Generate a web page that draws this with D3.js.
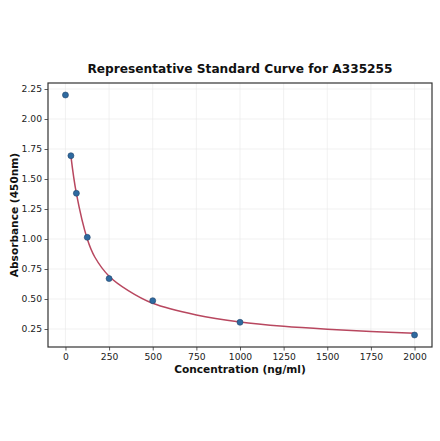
<!DOCTYPE html>
<html><head><meta charset="utf-8">
<script src="https://cdn.jsdelivr.net/npm/d3@7"></script>
<style>body{margin:0;background:#fff}svg{display:block}text{font-family:"DejaVu Sans",sans-serif}</style>
</head><body>
<svg id="c" width="440" height="441"></svg>
<script>
const concentrations = [0, 31.25, 62.5, 125, 250, 500, 1000, 2000];
const absorbances = [2.2, 1.694, 1.381, 1.014, 0.67, 0.486, 0.306, 0.2];
const curveX = [31.25, 62.5, 125, 168, 250, 360, 500, 750, 1000, 1250, 1500, 1750, 2000];
const curveY = [1.69, 1.38, 1.0, 0.85, 0.69, 0.57, 0.464, 0.367, 0.308, 0.272, 0.248, 0.23, 0.215];
const xTicks = [0, 250, 500, 750, 1000, 1250, 1500, 1750, 2000];
const yTicks = [0.25, 0.5, 0.75, 1.0, 1.25, 1.5, 1.75, 2.0, 2.25];
const titleText = "Representative Standard Curve for A335255";
const xLabel = "Concentration (ng/ml)";
const yLabel = "Absorbance (450nm)";

const svg = d3.select("#c");
const L = 48, R = 432, T = 83, B = 347;
const x = d3.scaleLinear().domain([-100, 2100]).range([L, R]);
const y = d3.scaleLinear().domain([0.1, 2.3]).range([B, T]);

// grid
const g = svg.append("g");
g.selectAll(".gx").data(xTicks).join("line")
  .attr("x1", d => x(d)).attr("x2", d => x(d)).attr("y1", T).attr("y2", B)
  .attr("stroke", "#e8e8e8").attr("stroke-width", 0.6);
g.selectAll(".gy").data(yTicks).join("line")
  .attr("y1", d => y(d)).attr("y2", d => y(d)).attr("x1", L).attr("x2", R)
  .attr("stroke", "#e8e8e8").attr("stroke-width", 0.6);

// axes
const xa = svg.append("g").attr("transform", `translate(0,${B})`)
  .call(d3.axisBottom(x).tickValues(xTicks).tickFormat(d3.format("d")).tickSize(3.5).tickPadding(2.5));
const ya = svg.append("g").attr("transform", `translate(${L},0)`)
  .call(d3.axisLeft(y).tickValues(yTicks).tickFormat(d3.format(".2f")).tickSize(3.5).tickPadding(2.5));
[xa, ya].forEach(a => {
  a.select(".domain").remove();
  a.selectAll("line").attr("stroke", "#333").attr("stroke-width", 0.8);
  a.selectAll("text").attr("font-size", 9.2).attr("fill", "#222").attr("font-family", "DejaVu Sans");
});

// curve
const line = d3.line().x(d => x(d[0])).y(d => y(d[1])).curve(d3.curveCatmullRom.alpha(0.5));
svg.append("path").datum(d3.zip(curveX, curveY)).attr("d", line)
  .attr("fill", "none").attr("stroke", "#b8475f").attr("stroke-width", 1.5);

// points
svg.selectAll(".pt").data(d3.zip(concentrations, absorbances)).join("circle")
  .attr("cx", d => x(d[0])).attr("cy", d => y(d[1])).attr("r", 3)
  .attr("fill", "#2e6aa0").attr("stroke", "#23456b").attr("stroke-width", 0.6);

// frame
svg.append("rect").attr("x", L).attr("y", T).attr("width", R - L).attr("height", B - T)
  .attr("fill", "none").attr("stroke", "#333").attr("stroke-width", 1.2);

svg.append("text").attr("x", (L + R) / 2).attr("y", 72.5).attr("text-anchor", "middle")
  .attr("font-size", 12.2).attr("font-weight", "bold").attr("fill", "#111").text(titleText);
svg.append("text").attr("x", (L + R) / 2).attr("y", 373).attr("text-anchor", "middle")
  .attr("font-size", 10.6).attr("font-weight", "bold").attr("fill", "#111").text(xLabel);
svg.append("text").attr("transform", `translate(17.5,${(T + B) / 2}) rotate(-90)`).attr("text-anchor", "middle")
  .attr("font-size", 10.6).attr("font-weight", "bold").attr("fill", "#111").text(yLabel);
</script>
</body></html>
